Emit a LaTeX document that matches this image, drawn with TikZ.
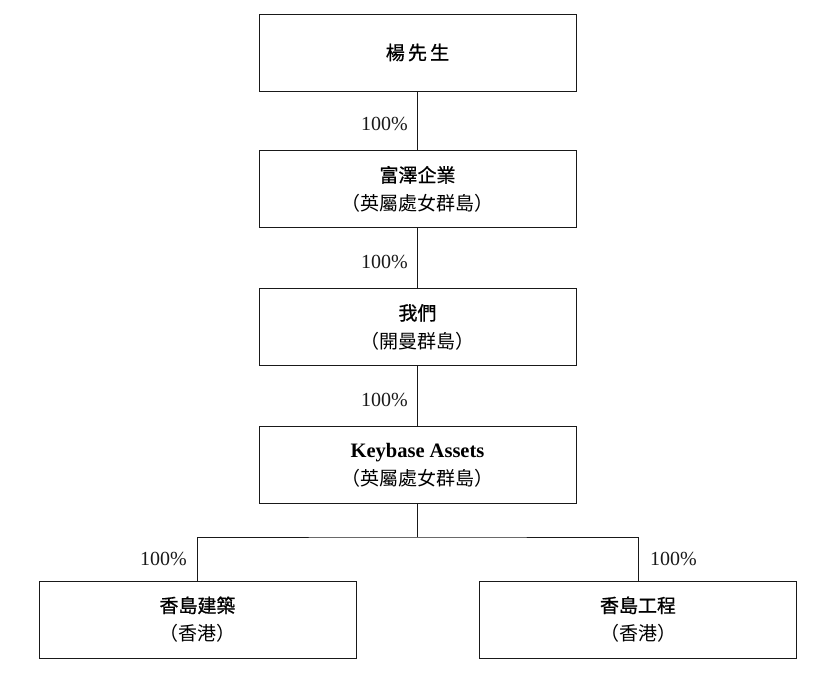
\documentclass[tikz,border=0pt]{standalone}
\usepackage{fontspec}
\setmainfont{Liberation Serif}
\newfontfamily\cjk{Noto Sans CJK TC}
\newfontfamily\cjkm[FakeBold=0.9]{Noto Sans CJK TC}
\begin{document}
\begin{tikzpicture}[x=1pt,y=-1pt,
  ent/.style={draw=black!90,line width=0.9pt,minimum width=317pt,minimum height=77pt,inner sep=0pt,align=center,font=\fontsize{19}{28}\selectfont\cjk},
  conn/.style={draw=black!90,line width=0.9pt},
  pct/.style={font=\fontsize{20}{24}\selectfont,text=black!90,inner sep=0pt}]
\useasboundingbox (0,0) rectangle (820,676);
\node[ent] (yang) at (417.5,52.5) {\cjkm 楊\,先\,生};
\node[ent] (fuze) at (417.5,189) {\cjkm 富澤企業\\（英屬處女群島）};
\node[ent] (we) at (417.5,327) {\cjkm 我們\\（開曼群島）};
\node[ent] (kb) at (417.5,465) {{\rmfamily\bfseries\fontsize{20.5}{28}\selectfont Keybase Assets}\\（英屬處女群島）};
\node[ent] (jz) at (197.5,619.5) {\cjkm 香島建築\\（香港）};
\node[ent] (gc) at (638,619.5) {\cjkm 香島工程\\（香港）};
\coordinate (br) at (417.5,537);
\draw[conn] (yang) -- (fuze);
\draw[conn] (fuze) -- (we);
\draw[conn] (we) -- (kb);
\draw[conn] (kb) -- (br);
\draw[conn] (jz.north) |- (br) -| (gc.north);
\node[pct,anchor=east] (p1) at (408,124) {100\%};
\node[pct,anchor=east] (p2) at (408,262) {100\%};
\node[pct,anchor=east] (p3) at (408,400) {100\%};
\node[pct,anchor=east] (p4) at (187,559) {100\%};
\node[pct,anchor=west] (p5) at (650,559) {100\%};
\end{tikzpicture}
\end{document}
